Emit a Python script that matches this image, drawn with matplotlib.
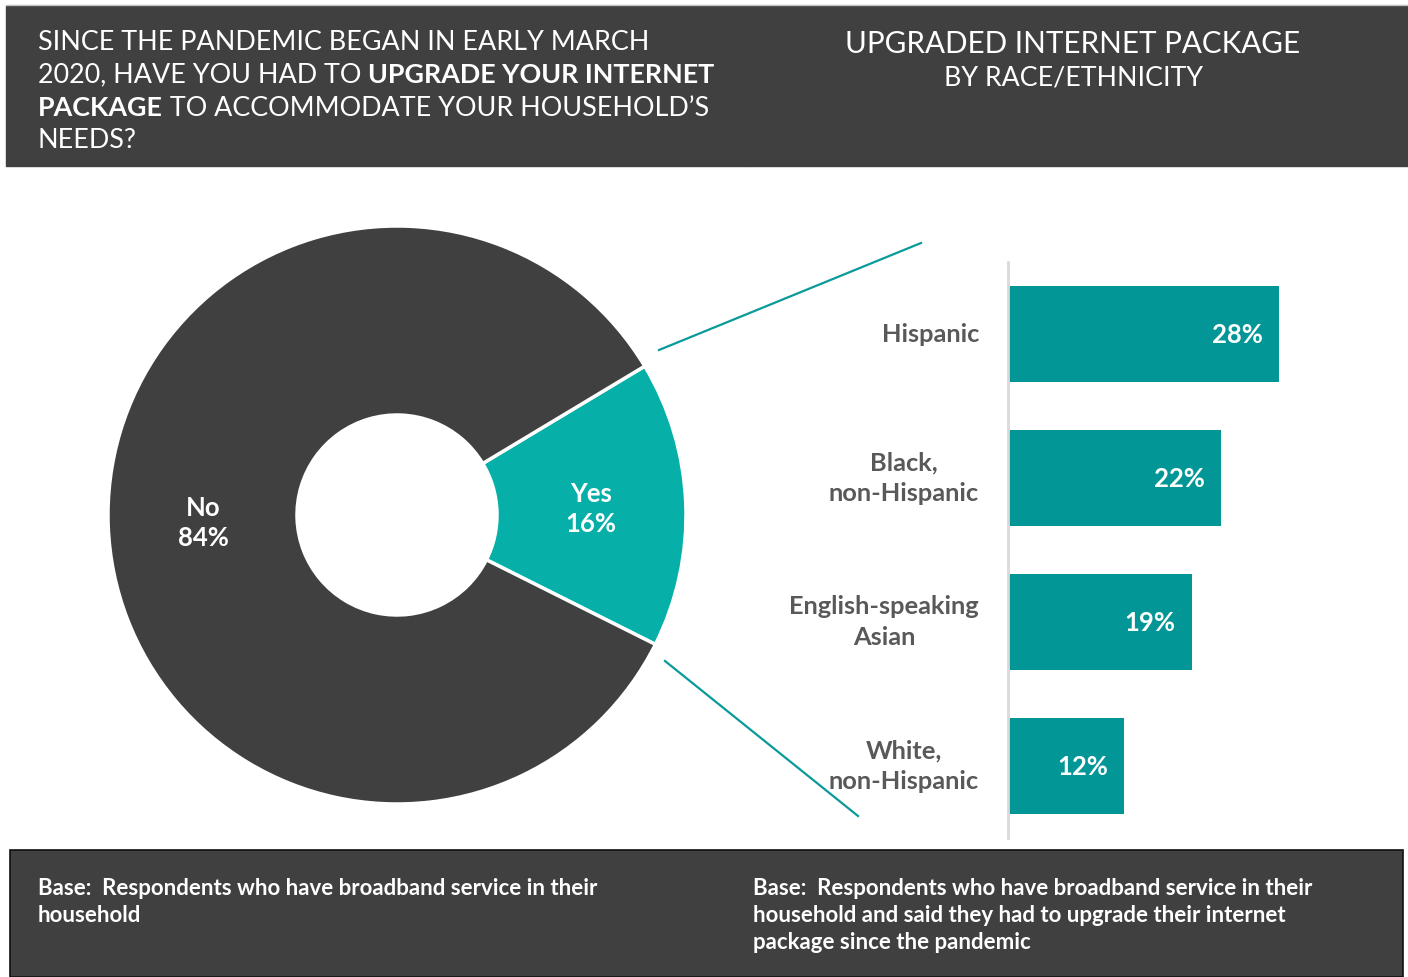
import matplotlib
matplotlib.use("Agg")
import matplotlib.pyplot as plt
from matplotlib.patches import Rectangle

plt.rcParams['font.family'] = ['Lato', 'DejaVu Sans']

# donut data
pie_labels = ['Yes', 'No']
pie_values = [16, 84]

# bar data
groups = ['Hispanic', 'Black,\nnon-Hispanic', 'English-speaking\nAsian', 'White,\nnon-Hispanic']
upgraded = [28, 22, 19, 12]

DARK = '#404040'
TEAL = '#06b0a8'
BAR_TEAL = '#039696'
LINE_TEAL = '#0a9a9a'
W, H = 1408, 977

fig = plt.figure(figsize=(W / 100, H / 100), dpi=100)
bg = fig.add_axes([0, 0, 1, 1])
bg.set_xlim(0, W)
bg.set_ylim(0, H)
bg.axis('off')


def Y(y):
    # y measured from the top edge to axes y
    return H - y


# header and footer panels
bg.add_patch(Rectangle((6, Y(166)), 739, 160, color=DARK, zorder=1))
bg.add_patch(Rectangle((745, Y(166)), 663, 160, color=DARK, zorder=1))
bg.plot([6, W], [Y(5), Y(5)], color='#bfbfbf', lw=1)
bg.add_patch(Rectangle((10, 0), 1393, Y(850), facecolor=DARK, edgecolor='#111111', lw=1.2, zorder=1))

fig.canvas.draw()
renderer = fig.canvas.get_renderer()


def runs(x, y, parts, size):
    # draw a line made of regular/bold pieces one after another
    for txt, bold in parts:
        t = bg.text(x, Y(y), txt, color='white', fontsize=size, va='center', ha='left',
                    fontweight='bold' if bold else 'normal', zorder=3)
        bb = t.get_window_extent(renderer=renderer)
        x += bb.width


hsize = 19.4
runs(38, 43, [('SINCE THE PANDEMIC BEGAN IN EARLY MARCH', False)], hsize)
runs(38, 75, [('2020, HAVE YOU HAD TO ', False), ('UPGRADE YOUR INTERNET', True)], hsize)
runs(38, 108, [('PACKAGE', True), (' TO ACCOMMODATE YOUR HOUSEHOLD\u2019S', False)], hsize)
runs(38, 141, [('NEEDS?', False)], hsize)

bg.text(1073, Y(44), 'UPGRADED INTERNET PACKAGE', color='white', fontsize=21.3,
        ha='center', va='center', zorder=3)
bg.text(1073, Y(78), 'BY RACE/ETHNICITY', color='white', fontsize=19.3,
        ha='center', va='center', zorder=3)

# footer notes
fsize = 16
bg.text(38, Y(878), 'Base:  Respondents who have broadband service in their\nhousehold',
        color='white', fontsize=fsize, fontweight='bold', ha='left', va='top',
        linespacing=1.36, zorder=3)
bg.text(753, Y(878), 'Base:  Respondents who have broadband service in their\n'
        'household and said they had to upgrade their internet\npackage since the pandemic',
        color='white', fontsize=fsize, fontweight='bold', ha='left', va='top',
        linespacing=1.36, zorder=3)

# donut
cx, cy, r = 397, Y(515), 289
yes_share = pie_values[0] / sum(pie_values)
wedges, _ = bg.pie(pie_values, colors=[TEAL, DARK], center=(cx, cy), radius=r,
                   startangle=-yes_share * 360 / 2 + 2.2, counterclock=True,
                   wedgeprops=dict(width=r - 100, edgecolor='white', linewidth=2.5))
bg.set_xlim(0, W)
bg.set_ylim(0, H)
bg.set_aspect('auto')
for w in wedges:
    w.set_zorder(2)

bg.text(591, Y(509), '%s\n%d%%' % (pie_labels[0], pie_values[0]), color='white',
        fontsize=18.5, fontweight='bold', ha='center', va='center', linespacing=1.35, zorder=3)
bg.text(203, Y(523), '%s\n%d%%' % (pie_labels[1], pie_values[1]), color='white',
        fontsize=18.5, fontweight='bold', ha='center', va='center', linespacing=1.35, zorder=3)

# connector lines from the Yes slice to the bars
bg.plot([659, 921], [Y(350), Y(243)], color=LINE_TEAL, lw=1.6, zorder=3)
bg.plot([665, 858], [Y(661), Y(816)], color=LINE_TEAL, lw=1.6, zorder=3)

# bars
px_per = 9.64
bw = 380
ax = fig.add_axes([1008 / W, Y(838) / H, bw / W, 576 / H])
ax.patch.set_alpha(0)
ax.barh(range(len(groups)), upgraded, height=96 / 144, color=BAR_TEAL, left=0.08)
ax.set_xlim(0, bw / px_per)
ax.set_ylim(len(groups) - 0.5, -0.5)
for s in ['top', 'right', 'bottom']:
    ax.spines[s].set_visible(False)
ax.spines['left'].set_color('#d9d9d9')
ax.spines['left'].set_linewidth(2)
ax.set_xticks([])
ax.set_yticks([])
for i, (g, v) in enumerate(zip(groups, upgraded)):
    ax.text(v - 1.6, i + 0.01, '%d%%' % v, color='white', fontsize=18.5, fontweight='bold',
            ha='right', va='center')
    ax.text(-3.0, i, g, color='#595959', fontsize=18.3, fontweight='bold',
            ha='right', va='center', multialignment='center', linespacing=1.38)

fig.savefig('out.png', dpi=100)
